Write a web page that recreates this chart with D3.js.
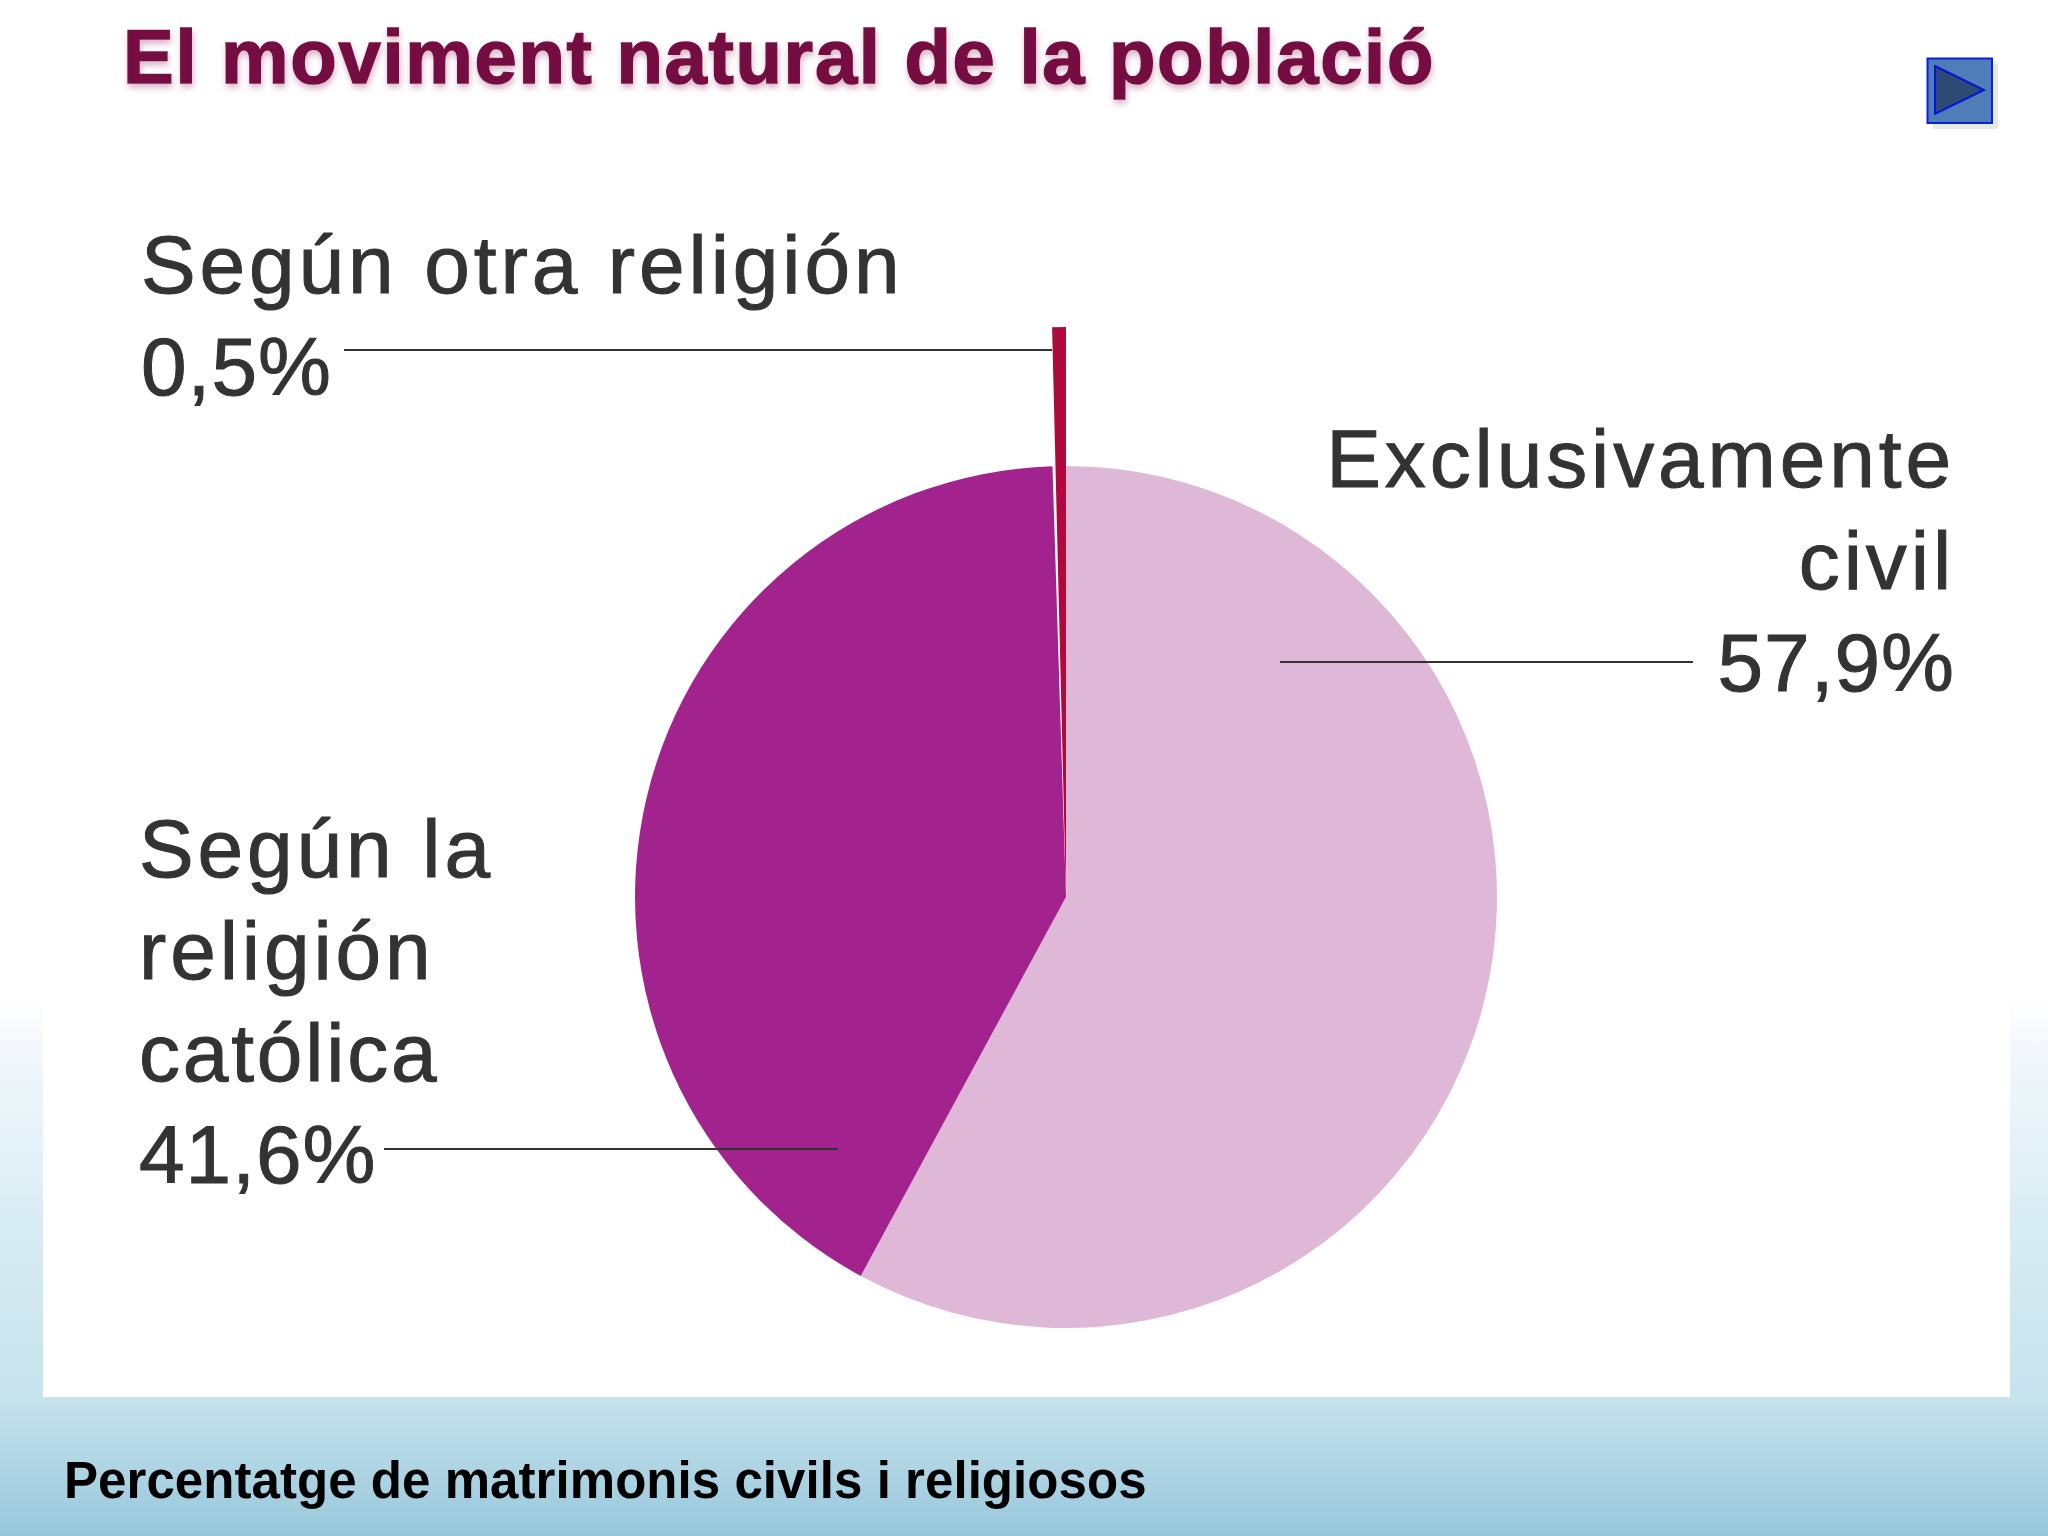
<!DOCTYPE html>
<html>
<head>
<meta charset="utf-8">
<script src="https://cdn.jsdelivr.net/npm/d3@7"></script>
<style>
  html, body { margin: 0; padding: 0; background: #fff; }
  svg { display: block; }
  text { font-family: "Liberation Sans", Arial, sans-serif; }
</style>
</head>
<body>
<div id="canvas"></div>
<script>
const categories = ["Exclusivamente civil", "Según la religión católica", "Según otra religión"];
const values = [57.9, 41.6, 0.5];
const valueLabels = ["57,9%", "41,6%", "0,5%"];
const colors = ["#dfb8d8", "#a3238e", "#b00a3c"];

const titleText = "El moviment natural de la població";
const captionText = "Percentatge de matrimonis civils i religiosos";

const width = 2048;
const height = 1536;
const cx = 1066;
const cy = 897;
const radius = 431;
const spikeRadius = 570;

const svg = d3.select("#canvas").append("svg")
    .attr("width", width)
    .attr("height", height);

const defs = svg.append("defs");

const bg = defs.append("linearGradient")
    .attr("id", "bg")
    .attr("x1", 0).attr("y1", 0).attr("x2", 0).attr("y2", 1);
bg.append("stop").attr("offset", "0.65").attr("stop-color", "#ffffff");
bg.append("stop").attr("offset", "0.68").attr("stop-color", "#f4f8fc");
bg.append("stop").attr("offset", "0.79").attr("stop-color", "#daedf4");
bg.append("stop").attr("offset", "0.91").attr("stop-color", "#c6e2ec");
bg.append("stop").attr("offset", "1").attr("stop-color", "#98c8dc");

const shadow = defs.append("filter").attr("id", "titleShadow")
    .attr("x", "-5%").attr("y", "-30%").attr("width", "110%").attr("height", "170%");
shadow.append("feDropShadow")
    .attr("dx", 1).attr("dy", 4).attr("stdDeviation", 3)
    .attr("flood-color", "#c080a0").attr("flood-opacity", 0.6);

svg.append("rect")
    .attr("width", width)
    .attr("height", height)
    .attr("fill", "url(#bg)");

// white panel behind the pie
svg.append("rect")
    .attr("x", 43).attr("y", 170)
    .attr("width", 1967).attr("height", 1227)
    .attr("fill", "#ffffff");

svg.append("text")
    .attr("x", 123).attr("y", 83)
    .attr("font-size", 76)
    .attr("font-weight", "bold")
    .attr("letter-spacing", 1.7)
    .attr("fill", "#760a42")
    .attr("stroke", "#760a42")
    .attr("stroke-width", 1.5)
    .attr("filter", "url(#titleShadow)")
    .text(titleText);

// play button
const button = svg.append("g");
button.append("rect")
    .attr("x", 1933).attr("y", 64).attr("width", 65).attr("height", 65)
    .attr("fill", "#e6e9de");
button.append("rect")
    .attr("x", 1927.5).attr("y", 58.5).attr("width", 64.5).attr("height", 64.5)
    .attr("fill", "#4f7db8")
    .attr("stroke", "#0a1fe0").attr("stroke-width", 2);
button.append("path")
    .attr("d", d3.line()([[1935, 66], [1984, 90], [1935, 114]]) + "Z")
    .attr("fill", "#2d4a75")
    .attr("stroke", "#0a14d8").attr("stroke-width", 2);

// pie
const pie = d3.pie().sort(null).value(d => d);
const arcs = pie(values);
const gap = 0.4 * Math.PI / 180;

const arc = d3.arc()
    .innerRadius(0)
    .outerRadius((d, i) => i === 2 ? spikeRadius : radius)
    .startAngle((d, i) => i === 2 ? d.startAngle + gap : d.startAngle)
    .endAngle(d => d.endAngle);

svg.append("g")
    .attr("transform", `translate(${cx},${cy})`)
    .selectAll("path")
    .data(arcs)
    .enter().append("path")
    .attr("d", arc)
    .attr("fill", (d, i) => colors[i]);

// leader lines
const leaders = [
    { x1: 1280, x2: 1693, y: 662 },
    { x1: 384, x2: 838, y: 1149 },
    { x1: 344, x2: 1052, y: 350 }
];
svg.append("g").selectAll("line")
    .data(leaders)
    .enter().append("line")
    .attr("x1", d => d.x1).attr("x2", d => d.x2)
    .attr("y1", d => d.y).attr("y2", d => d.y)
    .attr("stroke", "#333").attr("stroke-width", 2);

// labels, one line per row; the percentages sit tighter than the words
const labelRows = [
    { text: ["Exclusivamente", "civil", valueLabels[0]], x: 1955, y: 487, anchor: "end" },
    { text: ["Según la", "religión", "católica", valueLabels[1]], x: 139, y: 877, anchor: "start" },
    { text: ["Según otra religión", valueLabels[2]], x: 141, y: 293, anchor: "start" }
];
const rowStep = 102;
const labels = svg.append("g")
    .attr("font-size", 82)
    .attr("fill", "#333333")
    .attr("stroke", "#333333")
    .attr("stroke-width", 1);
labelRows.forEach(r => {
    labels.append("g").selectAll("text")
        .data(r.text)
        .enter().append("text")
        .attr("x", r.x)
        .attr("y", (d, i) => r.y + i * rowStep)
        .attr("text-anchor", r.anchor)
        .attr("letter-spacing", d => valueLabels.includes(d) ? 1 : d === "católica" ? 2.8 : 3.9)
        .text(d => d);
});

svg.append("text")
    .attr("x", 64).attr("y", 1498)
    .attr("font-size", 51)
    .attr("font-weight", "bold")
    .attr("letter-spacing", 0.06)
    .attr("fill", "#000")
    .text(captionText);
</script>
</body>
</html>
